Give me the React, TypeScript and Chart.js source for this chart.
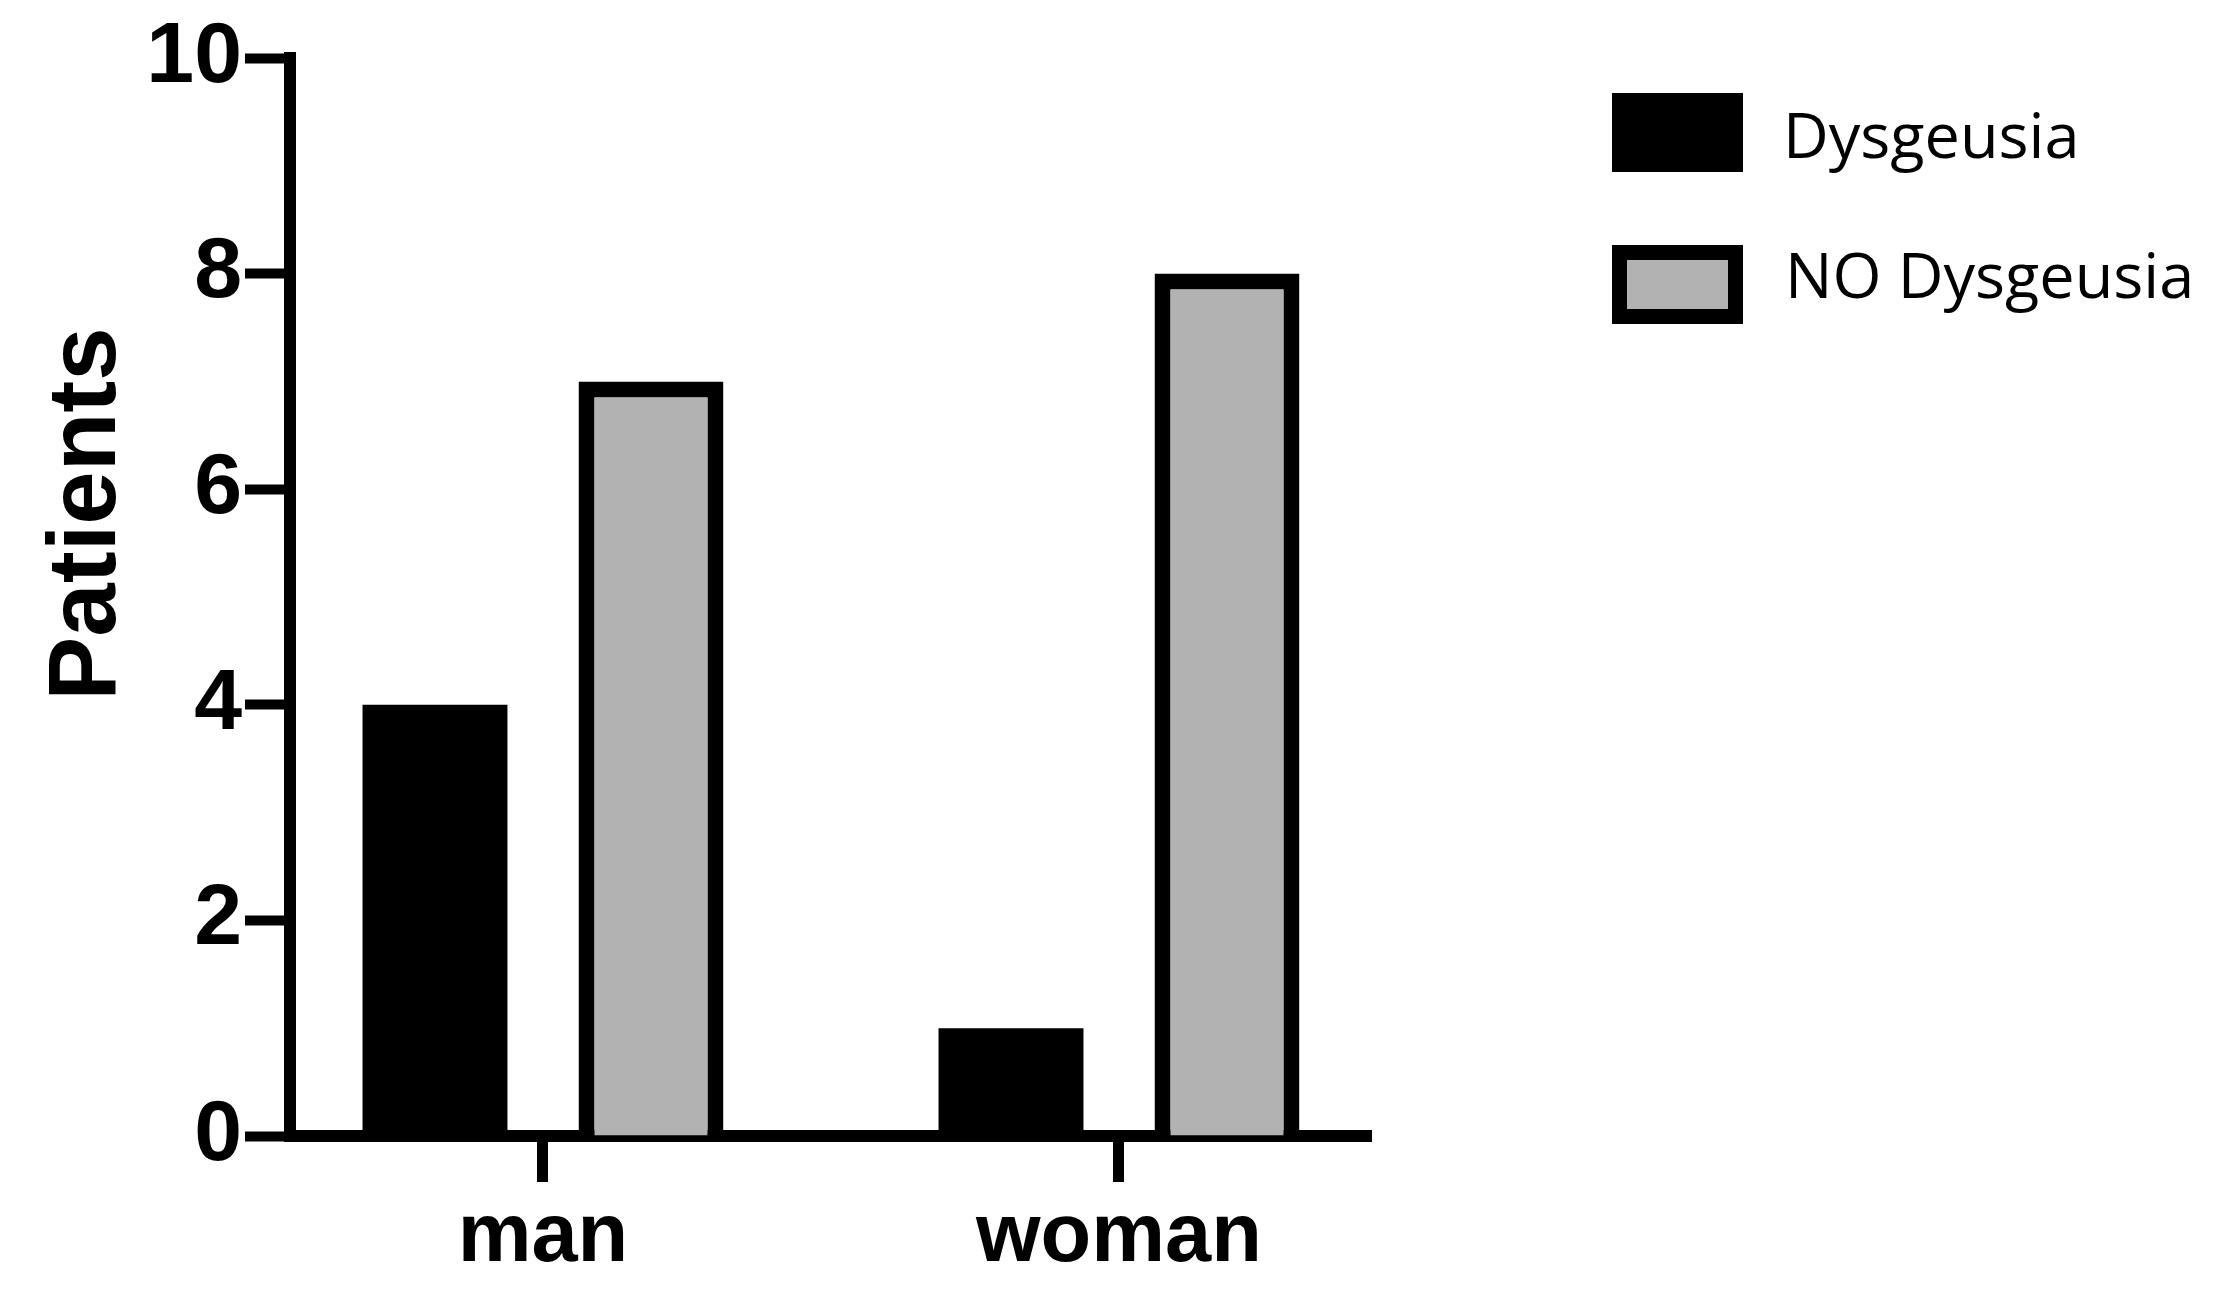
import React, { useEffect, useRef } from 'react';
import { Chart, registerables } from 'chart.js';

Chart.register(...registerables);

// ---- data ----
const categories = ['man', 'woman'];
const categoryPositions = [1, 2];
const dysgeusia = [4, 1];
const noDysgeusia = [7, 8];
const seriesLabels = ['Dysgeusia', 'NO Dysgeusia'];
const yTicks = [0, 2, 4, 6, 8, 10];
const yTitle = 'Patients';

// ---- styles ----
const BLACK = '#000000';
const GREY = '#b2b2b2';
const AXIS_FONT = '"Liberation Sans", Arial, sans-serif';
const LEGEND_FONT = '"Open Sans", sans-serif';

export default function App() {
  const ref = useRef<HTMLCanvasElement>(null);

  useEffect(() => {
    const canvas = ref.current;
    if (!canvas) return;

    const titlePlugin = {
      id: 'yTitlePlugin',
      afterDraw(chart: any) {
        const { ctx, chartArea, scales } = chart;
        const y = scales.y.getPixelForValue(5.77);
        ctx.save();
        ctx.font = `bold 96px ${AXIS_FONT}`;
        ctx.fillStyle = BLACK;
        ctx.translate(chartArea.left - 175, y);
        ctx.rotate(-Math.PI / 2);
        ctx.textAlign = 'center';
        ctx.textBaseline = 'alphabetic';
        ctx.fillText(yTitle, 0, 0);
        ctx.restore();
      },
    };

    const legendLayout = {
      left: 1612,
      width: 131,
      height: 79,
      tops: [93, 245],
      textLeft: [1783, 1785],
      baselines: [158, 298],
      border: 15,
    };

    const legendPlugin = {
      id: 'customLegend',
      afterDraw(chart: any) {
        const { ctx } = chart;
        ctx.save();
        chart.data.datasets.forEach((ds: any, i: number) => {
          const x = legendLayout.left;
          const y = legendLayout.tops[i];
          const w = legendLayout.width;
          const h = legendLayout.height;
          const bw = ds.borderWidth ? legendLayout.border : 0;
          if (bw) {
            ctx.fillStyle = ds.borderColor;
            ctx.fillRect(x, y, w, h);
            ctx.fillStyle = ds.backgroundColor;
            ctx.fillRect(x + bw, y + bw, w - 2 * bw, h - 2 * bw);
          } else {
            ctx.fillStyle = ds.backgroundColor;
            ctx.fillRect(x, y, w, h);
          }
          ctx.fillStyle = BLACK;
          ctx.font = `63px ${LEGEND_FONT}`;
          ctx.textAlign = 'left';
          ctx.textBaseline = 'alphabetic';
          ctx.fillText(ds.label, legendLayout.textLeft[i], legendLayout.baselines[i]);
        });
        ctx.restore();
      },
    };

    const chart = new Chart(canvas, {
      type: 'bar',
      data: {
        datasets: [
          {
            label: seriesLabels[0],
            data: categoryPositions.map((x, i) => ({ x, y: dysgeusia[i] })),
            backgroundColor: BLACK,
            borderWidth: 0,
          },
          {
            label: seriesLabels[1],
            data: categoryPositions.map((x, i) => ({ x, y: noDysgeusia[i] })),
            backgroundColor: GREY,
            borderColor: BLACK,
            borderWidth: 16,
            borderSkipped: 'start',
          },
        ],
      } as any,
      options: {
        responsive: false,
        animation: false,
        devicePixelRatio: 1,
        layout: { padding: { top: 58, right: 852, left: 0, bottom: 0 } },
        datasets: { bar: { categoryPercentage: 0.75, barPercentage: 0.671 } } as any,
        plugins: {
          legend: { display: false },
          tooltip: { enabled: false },
          title: { display: false },
        },
        scales: {
          x: {
            type: 'linear',
            min: 0.5608,
            max: 2.4375,
            bounds: 'data',
            offset: false,
            z: 1,
            afterBuildTicks: (s: any) => {
              s.ticks = categoryPositions.map((v) => ({ value: v }));
            },
            afterFit: (s: any) => {
              s.height = 171;
            },
            ticks: {
              autoSkip: false,
              maxRotation: 0,
              minRotation: 0,
              padding: 6,
              color: BLACK,
              font: { family: AXIS_FONT, size: 83, weight: 'bold' },
              callback: (_v: any, i: number) => categories[i],
            },
            grid: {
              display: true,
              offset: false,
              drawOnChartArea: false,
              drawTicks: true,
              tickLength: 46,
              tickWidth: 11,
              tickColor: BLACK,
              lineWidth: 1,
            },
            border: { display: true, color: BLACK, width: 12 },
          },
          y: {
            type: 'linear',
            min: 0,
            max: 10,
            bounds: 'data',
            afterBuildTicks: (s: any) => {
              s.ticks = yTicks.map((v) => ({ value: v }));
            },
            afterFit: (s: any) => {
              s.width = 290;
            },
            ticks: {
              padding: 3,
              color: BLACK,
              font: { family: AXIS_FONT, size: 86, weight: 'bold' },
              callback: (v: any) => String(v),
            },
            grid: {
              display: true,
              drawOnChartArea: false,
              drawTicks: true,
              tickLength: 45,
              tickWidth: 10,
              tickColor: BLACK,
              lineWidth: 1,
            },
            border: { display: true, color: BLACK, width: 12 },
          },
        },
      } as any,
      plugins: [titlePlugin, legendPlugin],
    });

    return () => chart.destroy();
  }, []);

  return (
    <canvas
      ref={ref}
      width={2223}
      height={1307}
      style={{ position: 'fixed', left: 0, top: 0, display: 'block', background: '#ffffff' }}
    />
  );
}
